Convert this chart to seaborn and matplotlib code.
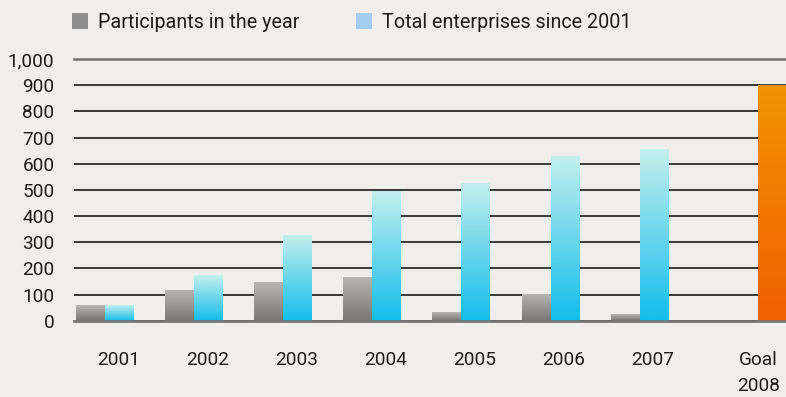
import numpy as np
import pandas as pd
import matplotlib
matplotlib.use("Agg")
import matplotlib.pyplot as plt
from matplotlib.patches import Patch
from matplotlib.colors import to_rgb
import seaborn as sns

# --- data -------------------------------------------------------------
years = ["2001", "2002", "2003", "2004", "2005", "2006", "2007"]
participants = [60, 115, 148, 167, 33, 102, 25]
total_enterprises = [60, 175, 325, 495, 524, 627, 654]
goal_label = "Goal\n2008"
goal_value = 900
series_names = ["Participants in the year", "Total enterprises since 2001"]
y_ticks = [0, 100, 200, 300, 400, 500, 600, 700, 800, 900, 1000]
y_tick_labels = ["0", "100", "200", "300", "400", "500", "600", "700", "800", "900", "1,000"]

df = pd.DataFrame({
    "Year": years * 2,
    "Series": [series_names[0]] * len(years) + [series_names[1]] * len(years),
    "Value": participants + total_enterprises,
})

# --- style ------------------------------------------------------------
BG = "#efeeec"
TEXT = "#1c1c1c"
sns.set_theme(style="white")
plt.rcParams["font.family"] = ["Roboto", "DejaVu Sans"]
plt.rcParams["text.color"] = TEXT

grad_colors = {
    series_names[0]: ("#b6b5b3", "#777675"),
    series_names[1]: ("#c3efec", "#12bdec"),
}
legend_colors = {series_names[0]: "#8f8f8f", series_names[1]: "#a3cdf0"}
goal_colors = ("#f39300", "#f06100")

fig = plt.figure(figsize=(7.86, 3.97), dpi=100, facecolor=BG)
ax = fig.add_axes([74 / 786, 1 - 320.7 / 397, 1 - 74 / 786, (320.7 - 59) / 397])
ax.set_facecolor(BG)

sns.barplot(data=df, x="Year", y="Value", hue="Series", hue_order=series_names,
            order=years, width=0.65, legend=False, ax=ax,
            palette=[legend_colors[s] for s in series_names])

# goal bar sits just right of the last year group
goal_x = len(years) + 0.33
ax.bar([goal_x], [goal_value], width=0.45, align="edge", color=goal_colors[0])


def gradient_fill(patch, top, bottom):
    x0, y0 = patch.get_x(), patch.get_y()
    w, h = patch.get_width(), patch.get_height()
    if h <= 0:
        return
    t = np.linspace(0, 1, 256)[:, None, None]
    img = (1 - t) * np.array(to_rgb(top)) + t * np.array(to_rgb(bottom))
    img = np.repeat(img, 2, axis=1)
    ax.imshow(img, extent=[x0, x0 + w, y0, y0 + h], origin="upper",
              aspect="auto", interpolation="bilinear", zorder=2)
    patch.set_visible(False)


patches = list(ax.patches)
n = len(years)
for i, p in enumerate(patches[:2 * n]):
    s = series_names[i // n]
    gradient_fill(p, *grad_colors[s])
gradient_fill(patches[-1], *goal_colors)

# --- axes -------------------------------------------------------------
ax.set_xlim(-0.348, 7.643)
ax.set_ylim(0, 1000)
ax.set_yticks(y_ticks)
ax.set_yticklabels(y_tick_labels)
ax.set_xticks([i + 0.15 for i in range(n)] + [goal_x])
ax.set_xticklabels(years + [goal_label])
ax.set_xlabel("")
ax.set_ylabel("")
ax.tick_params(axis="both", length=0, labelsize=13.7, colors=TEXT)
ax.tick_params(axis="y", pad=14)
ax.tick_params(axis="x", pad=22)
for lbl in ax.get_xticklabels():
    lbl.set_verticalalignment("top")
    lbl.set_linespacing(1.55)

ax.set_axisbelow(True)
ax.yaxis.grid(True, color="#2a2a2a", linewidth=1.3, zorder=0.5)
ax.xaxis.grid(False)
for side in ["left", "right"]:
    ax.spines[side].set_visible(False)
ax.spines["top"].set_color("#707070")
ax.spines["top"].set_linewidth(1.8)
ax.spines["bottom"].set_color("#777777")
ax.spines["bottom"].set_linewidth(2.0)
ax.spines["bottom"].set_zorder(3)

# --- legend -----------------------------------------------------------
handles = [Patch(facecolor=legend_colors[s], edgecolor="none", label=s) for s in series_names]
fig.legend(handles=handles, loc="upper left", bbox_to_anchor=(72 / 786, 1 - 13 / 397),
           ncol=2, frameon=False, fontsize=14.2, handlelength=0.82, handleheight=0.82,
           handletextpad=0.5, columnspacing=2.85, borderpad=0, borderaxespad=0)

fig.savefig("out.png", dpi=100, facecolor=BG)
